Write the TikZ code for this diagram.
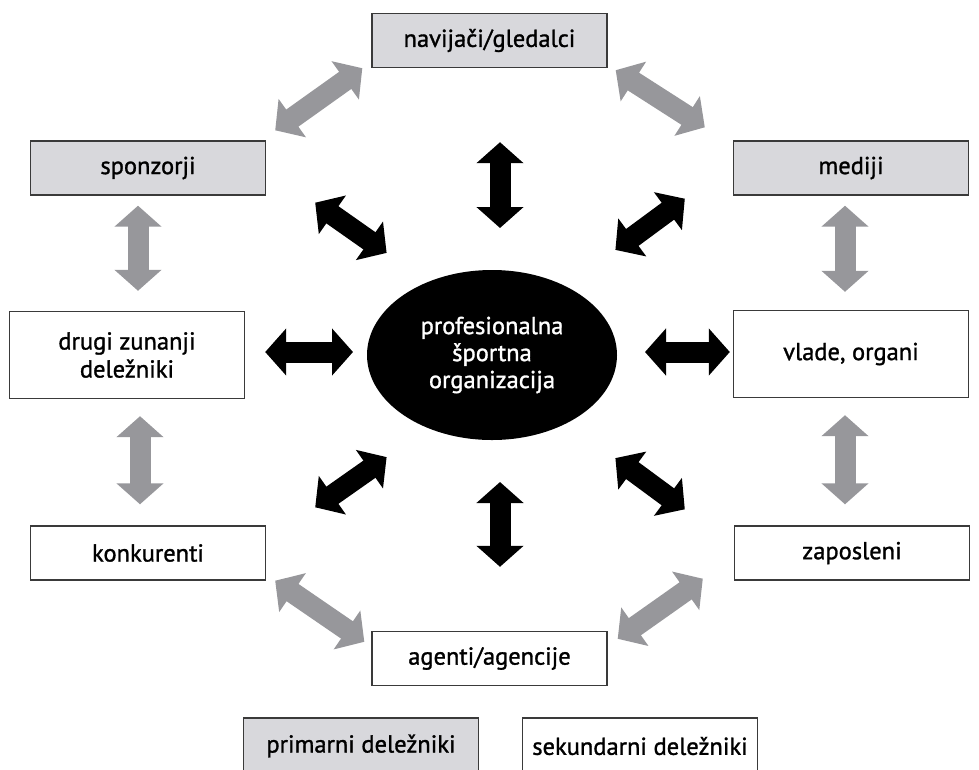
\documentclass[tikz,border=0pt]{standalone}
\usepackage{fontspec}
\setmainfont{PT Sans}[FakeBold=1.2]
\usetikzlibrary{arrows.meta,shapes.geometric}
\definecolor{boxgrey}{HTML}{D8D8DC}
\definecolor{arrowgrey}{HTML}{97979B}
\definecolor{edgegrey}{HTML}{3A3A3A}
\tikzset{
  bigtip/.tip   = {Triangle[width=46pt,length=21pt]},
  primbox/.style = {draw=edgegrey, fill=boxgrey, line width=1.4pt, minimum width=235pt,
                    minimum height=54pt, inner sep=0pt, align=center,
                    font=\fontsize{24.5}{28}\selectfont},
  sekbox/.style  = {primbox, fill=white},
  orgnode/.style = {ellipse, fill=black, text=white, minimum width=250pt, minimum height=170pt,
                    inner sep=0pt, outer sep=0pt, align=center, font=\fontsize{24.5}{27}\selectfont},
  greyflow/.style  = {bigtip-bigtip, line width=21pt, draw=arrowgrey},
  blackflow/.style = {bigtip-bigtip, line width=21pt, draw=black},
}
\begin{document}
\begin{tikzpicture}[x=1pt,y=-1pt]
    \clip (0,0) rectangle (979,769);
    \node[orgnode] (ctr) at (492,355) {profesionalna\\športna\\organizacija};
    \node[primbox] (nav) at (489.5,40.5) {navijači/gledalci};
    \node[primbox] (spo) at (148,168) {sponzorji};
    \node[primbox] (med) at (851,168) {mediji};
    \node[sekbox,minimum height=87pt] (dru) at (127,355) {drugi zunanji\\deležniki};
    \node[sekbox,minimum height=87pt] (vla) at (851,354) {vlade, organi};
    \node[sekbox] (kon) at (148,553) {konkurenti};
    \node[sekbox] (zap) at (852,553) {zaposleni};
    \node[sekbox] (age) at (489.5,658.5) {agenti/agencije};
    % legend
    \node[primbox,minimum height=56pt] (lprim) at (361,746) {primarni deležniki};
    \node[sekbox,minimum height=56pt] (lsek) at (640,746) {sekundarni deležniki};
    % outer ring
    \draw[greyflow] ([xshift=-9]nav.south west) -- ([shift={(9,-10)}]spo.north east);
    \draw[greyflow] ([shift={(8,2)}]nav.south east) -- ([shift={(-28,-13)}]med.north west);
    \draw[greyflow] ([shift={(-10,10)}]spo.south) -- ([shift={(11,-20)}]dru.north);
    \draw[greyflow] ([shift={(-6,10)}]med.south) -- ([shift={(-6,-18)}]vla.north);
    \draw[greyflow] ([shift={(13,17)}]dru.south) -- ([shift={(-8,-21)}]kon.north);
    \draw[greyflow] ([shift={(-6,17)}]vla.south) -- ([shift={(-7,-21)}]zap.north);
    \draw[greyflow] ([xshift=9]kon.south east) -- ([shift={(-7,11)}]age.north west);
    \draw[greyflow] ([shift={(10,8)}]age.north east) -- ([shift={(-31,-2)}]zap.south west);
    % spokes
    \draw[blackflow] ([shift={(10.5,74)}]nav.south) -- ([shift={(8,-42)}]ctr.north);
    \draw[blackflow] ([shift={(8,42)}]ctr.south) -- ([shift={(10.5,-64)}]age.north);
    \draw[blackflow] ([shift={(20,-3)}]dru.east) -- ([shift={(-14,-3)}]ctr.west);
    \draw[blackflow] ([shift={(28,-3)}]ctr.east) -- ([shift={(-3,-2)}]vla.west);
    \draw[blackflow] ([shift={(49,7)}]spo.south east) -- ([shift={(-17,-42)}]ctr.north west);
    \draw[blackflow] ([shift={(-48,3)}]med.south west) -- ([shift={(35,-45)}]ctr.north east);
    \draw[blackflow] ([shift={(49,-18)}]kon.north east) -- ([shift={(-17,42)}]ctr.south west);
    \draw[blackflow] ([shift={(-49,-16)}]zap.north west) -- ([shift={(35,43)}]ctr.south east);
\end{tikzpicture}
\end{document}
